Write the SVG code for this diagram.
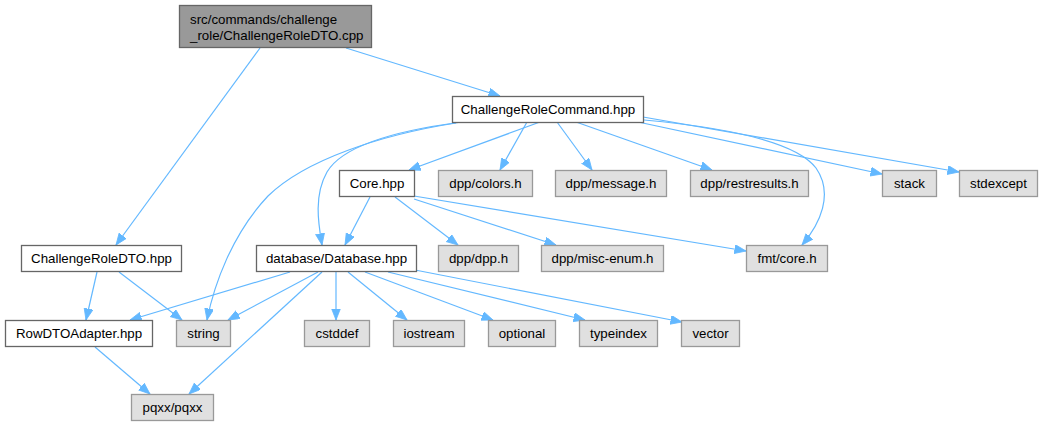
<svg xmlns="http://www.w3.org/2000/svg" width="1043" height="427" viewBox="0 0 1043 427">
<style>
text{font-family:"Liberation Sans",Arial,sans-serif;font-size:13.3px;fill:#000}
.c{text-anchor:middle}
.n rect{fill:#fff;stroke:#666;stroke-width:1.3}
.r rect{fill:#999;stroke:#666;stroke-width:1.3}
.l rect{fill:#e0e0e0;stroke:#999;stroke-width:1.3}
#edges path{fill:none;stroke:#63b8ff;stroke-width:1.2;marker-end:url(#a)}
</style>
<defs>
<marker id="a" markerUnits="userSpaceOnUse" markerWidth="12" markerHeight="10" refX="11.5" refY="4.5" orient="auto">
<path d="M0,0 L11.5,4.5 L0,9 z" fill="#63b8ff" stroke="#63b8ff" stroke-width="0.8"/>
</marker>
</defs>
<rect width="1043" height="427" fill="#fff"/>
<g id="edges">
<path d="M346,48 L500,96"/>
<path d="M260,48 L116,245"/>
<path d="M540,122 L409,170"/>
<path d="M527,122 L500,170"/>
<path d="M557,122 L592,170"/>
<path d="M576,122 L712,170"/>
<path d="M638,122 L882,174"/>
<path d="M643,117 L959,172"/>
<path d="M644,120 C720,127 795,140 816,168 C834,194 820,224 802,245"/>
<path d="M462,122 C400,130 343,145 327,172 C314,195 318,222 322,245"/>
<path d="M456,123 C380,135 305,160 268,196 C232,234 214,285 207,320"/>
<path d="M370,197 L345,245"/>
<path d="M395,197 L458,245"/>
<path d="M414,199 L556,245"/>
<path d="M414,196 L746,251"/>
<path d="M97,272 L86,320"/>
<path d="M119,272 L182,320"/>
<path d="M290,272 L130,320"/>
<path d="M318,272 L228,320"/>
<path d="M322,272 L189,394"/>
<path d="M336,272 L336,320"/>
<path d="M348,272 L407,320"/>
<path d="M365,272 L493,320"/>
<path d="M388,272 L585,320"/>
<path d="M415,270 L682,322"/>
<path d="M95,347 L150,394"/>
</g>
<g id="root" class="r"><rect x="179.5" y="5.5" width="192" height="42"/><text x="190" y="24">src/commands/challenge</text><text x="190" y="39.5">_role/ChallengeRoleDTO.cpp</text></g>
<g id="crc" class="n"><rect x="452.5" y="96.5" width="191" height="26"/><text class="c" x="548" y="114">ChallengeRoleCommand.hpp</text></g>
<g id="core" class="n"><rect x="339.5" y="170.5" width="75" height="26"/><text class="c" x="377" y="188">Core.hpp</text></g>
<g id="colors" class="l"><rect x="438.5" y="170.5" width="94" height="26"/><text class="c" x="485.5" y="188">dpp/colors.h</text></g>
<g id="message" class="l"><rect x="555.5" y="170.5" width="111" height="26"/><text class="c" x="611" y="188">dpp/message.h</text></g>
<g id="restresults" class="l"><rect x="690.5" y="170.5" width="118" height="26"/><text class="c" x="749.5" y="188">dpp/restresults.h</text></g>
<g id="stack" class="l"><rect x="882.5" y="170.5" width="54" height="26"/><text class="c" x="909.5" y="188">stack</text></g>
<g id="stdexcept" class="l"><rect x="959.5" y="170.5" width="78" height="26"/><text class="c" x="998.5" y="188">stdexcept</text></g>
<g id="crdto" class="n"><rect x="21.5" y="245.5" width="160" height="26"/><text class="c" x="101.5" y="263">ChallengeRoleDTO.hpp</text></g>
<g id="database" class="n"><rect x="256.5" y="245.5" width="160" height="26"/><text class="c" x="336.5" y="263">database/Database.hpp</text></g>
<g id="dpph" class="l"><rect x="438.5" y="245.5" width="80" height="26"/><text class="c" x="478.5" y="263">dpp/dpp.h</text></g>
<g id="miscenum" class="l"><rect x="541.5" y="245.5" width="122" height="26"/><text class="c" x="602.5" y="263">dpp/misc-enum.h</text></g>
<g id="fmtcore" class="l"><rect x="746.5" y="245.5" width="81" height="26"/><text class="c" x="787" y="263">fmt/core.h</text></g>
<g id="rowdto" class="n"><rect x="5.5" y="320.5" width="147" height="26"/><text class="c" x="79" y="338">RowDTOAdapter.hpp</text></g>
<g id="string" class="l"><rect x="176.5" y="320.5" width="54" height="26"/><text class="c" x="203.5" y="338">string</text></g>
<g id="cstddef" class="l"><rect x="304.5" y="320.5" width="65" height="26"/><text class="c" x="337" y="338">cstddef</text></g>
<g id="iostream" class="l"><rect x="393.5" y="320.5" width="71" height="26"/><text class="c" x="429" y="338">iostream</text></g>
<g id="optional" class="l"><rect x="488.5" y="320.5" width="67" height="26"/><text class="c" x="522" y="338">optional</text></g>
<g id="typeindex" class="l"><rect x="579.5" y="320.5" width="78" height="26"/><text class="c" x="618.5" y="338">typeindex</text></g>
<g id="vector" class="l"><rect x="681.5" y="320.5" width="58" height="26"/><text class="c" x="710.5" y="338">vector</text></g>
<g id="pqxx" class="l"><rect x="131.5" y="394.5" width="82" height="26"/><text class="c" x="172.5" y="412">pqxx/pqxx</text></g>
</svg>
